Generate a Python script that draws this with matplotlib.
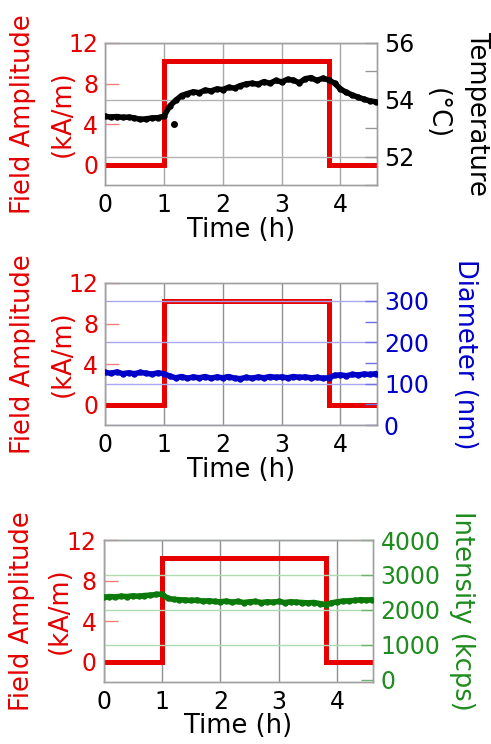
import matplotlib
matplotlib.use("Agg")
import matplotlib.pyplot as plt
from matplotlib.ticker import MultipleLocator, NullLocator

plt.rcParams['font.family'] = ['DejaVu Sans']

# ---------------- data ----------------
time_h = [0.0, 0.1, 0.2, 0.3, 0.4, 0.5, 0.6, 0.7, 0.8, 0.9,
          1.0, 1.1, 1.2, 1.3, 1.4, 1.5, 1.6, 1.7, 1.8, 1.9,
          2.0, 2.1, 2.2, 2.3, 2.4, 2.5, 2.6, 2.7, 2.8, 2.9,
          3.0, 3.1, 3.2, 3.3, 3.4, 3.5, 3.6, 3.7, 3.8, 3.9,
          4.0, 4.1, 4.2, 4.3, 4.4, 4.5, 4.6]

field_time = [0.0, 1.0, 1.0, 3.8, 3.8, 4.62]
field_amp = [0.0, 0.0, 10.2, 10.2, 0.0, 0.0]

temperature = [53.42, 53.39, 53.41, 53.38, 53.39, 53.36, 53.31, 53.33, 53.36, 53.37,
               53.42, 53.78, 53.98, 54.15, 54.22, 54.28, 54.25, 54.34, 54.31, 54.38,
               54.36, 54.44, 54.41, 54.50, 54.56, 54.58, 54.55, 54.64, 54.58, 54.68,
               54.63, 54.72, 54.69, 54.60, 54.74, 54.78, 54.68, 54.76, 54.70, 54.58,
               54.38, 54.26, 54.17, 54.09, 54.02, 53.96, 53.93]
temp_outlier_t = [1.17]
temp_outlier_v = [53.16]

diameter = [127, 125, 128, 124, 126, 124, 127, 125, 123, 126,
            124, 118, 114, 117, 113, 116, 114, 117, 113, 116,
            114, 117, 113, 112, 115, 113, 116, 114, 117, 115,
            116, 114, 117, 115, 116, 114, 115, 113, 114, 120,
            121, 119, 122, 121, 123, 122, 124]

intensity = [2360, 2380, 2370, 2390, 2380, 2400, 2390, 2410, 2420, 2440,
             2450, 2330, 2300, 2290, 2280, 2270, 2280, 2250, 2260, 2240,
             2230, 2250, 2220, 2240, 2210, 2230, 2240, 2210, 2230, 2220,
             2240, 2210, 2230, 2220, 2210, 2200, 2210, 2180, 2150, 2200,
             2230, 2250, 2260, 2270, 2290, 2280, 2290]

x_ticks = [0, 1, 2, 3, 4]
field_ticks = [0, 4, 8, 12]

# ---------------- style ----------------
RED = '#e60000'
RED_TICK = '#f28080'
SPINE = '#a0a0a0'
TICK_FS = 17
LAB_FS = 18.5

W, H = 491, 744
fig = plt.figure(figsize=(W / 100, H / 100), dpi=100)


def px_axes(left, top, right, bottom):
    return fig.add_axes([left / W, 1 - bottom / H, (right - left) / W, (bottom - top) / H])


def make_panel(box, y2, ylim2, color2, data_color, grid2_color, tick2_color, major2, minor2,
               right_lines, right_xs, left_xs, xlabel_y, vgrid='#a8a8a8', hide_zero_grid=False):
    ax = px_axes(*box)
    ax.set_xlim(0, 4.62)
    ax.set_ylim(-2, 12)
    ax.plot(field_time, field_amp, color=RED, lw=3.6, solid_joinstyle='miter', zorder=3)
    ax.set_xticks(x_ticks)
    ax.set_yticks(field_ticks)
    ax.xaxis.grid(True, color=vgrid, lw=1.0)
    ax.tick_params(axis='y', direction='in', length=10, width=1, color=RED_TICK,
                   labelcolor=RED, labelsize=TICK_FS, pad=5)
    ax.tick_params(axis='x', direction='in', length=0, labelcolor='black',
                   labelsize=TICK_FS, pad=6)
    for s in ax.spines.values():
        s.set_color(SPINE)
        s.set_linewidth(1.0)
    for txt, xx in zip(['Field Amplitude', '(kA/m)'], left_xs):
        ax.text(xx, 0.5, txt, transform=ax.transAxes, rotation=90, ha='center',
                va='center', color=RED, fontsize=LAB_FS)
    ax.set_xlabel('Time (h)', fontsize=LAB_FS)
    ax.xaxis.label.set_verticalalignment('center')
    ax.xaxis.set_label_coords(0.5, xlabel_y)

    ax2 = ax.twinx()
    ax2.set_ylim(*ylim2)
    ax2.yaxis.set_major_locator(MultipleLocator(major2))
    if minor2:
        ax2.yaxis.set_minor_locator(MultipleLocator(minor2))
    else:
        ax2.yaxis.set_minor_locator(NullLocator())
    ax2.yaxis.grid(True, which='major', color=grid2_color, lw=1.0)
    ax2.tick_params(axis='y', which='major', direction='in', length=9, width=1,
                    color=tick2_color, labelcolor=color2, labelsize=TICK_FS, pad=5)
    ax2.tick_params(axis='y', which='minor', direction='in', length=9, width=1,
                    color=tick2_color)
    for s in ax2.spines.values():
        s.set_color(SPINE)
        s.set_linewidth(1.0)
    ax2.plot(time_h, y2, color=data_color, lw=4.0, marker='o', ms=3.6, zorder=4)
    for txt, xx in zip(right_lines, right_xs):
        ax2.text(xx, 0.5, txt, transform=ax2.transAxes, rotation=270, ha='center',
                 va='center', color=color2, fontsize=LAB_FS)
    if hide_zero_grid:
        fig.canvas.draw()
        for tk, gl in zip(ax2.yaxis.get_major_locator()(), ax2.get_ygridlines()):
            if tk == 0:
                gl.set_visible(False)
    return ax, ax2


# Panel 1: temperature
ax1, ax1b = make_panel((105, 43, 377, 185), temperature, (51, 56), 'black', 'black',
                       '#b4b4b4', '#999999', 2, 1, ['Temperature', '(°C)'],
                       [1.367, 1.219], [-0.301, -0.154], -45 / 142)
ax1b.plot(temp_outlier_t, temp_outlier_v, 'o', color='black', ms=4, zorder=4)

# Panel 2: diameter
make_panel((105, 283, 377, 425), diameter, (0, 343), '#0000cc', '#0000c8',
           '#a8a8f0', '#7070e0', 100, 50, ['Diameter (nm)'], [1.324],
           [-0.301, -0.154], -45 / 142, vgrid='#909090')

# Panel 3: intensity
make_panel((103.5, 540, 373.5, 682), intensity, (-66, 4000), '#1e8c1e', '#0b7a0b',
           '#b0dab0', '#70b070', 1000, None, ['Intensity (kcps)'], [1.327],
           [-0.303, -0.161], -44 / 142, vgrid='#909090', hide_zero_grid=True)

fig.savefig('out.png', dpi=100)
